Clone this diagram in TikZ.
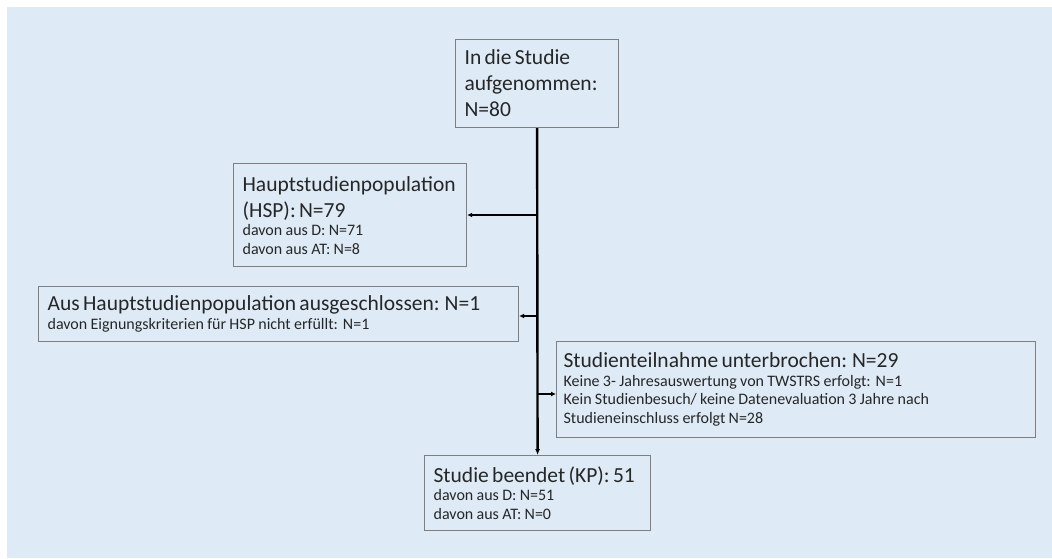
\documentclass[tikz,border=0pt]{standalone}
\usepackage{fontspec}
\setmainfont{Carlito}
\usetikzlibrary{arrows.meta}
\definecolor{bgblue}{HTML}{DEEBF7}
\definecolor{boxline}{HTML}{7F7F7F}
\definecolor{txt}{HTML}{262626}
\newcommand\bigf{\fontsize{21.5}{26}\selectfont}
\newcommand\smf{\fontsize{16}{18.5}\selectfont}
\begin{document}
\begin{tikzpicture}[x=1pt,y=-1pt,
  flowbox/.style={draw=boxline, line width=1.2pt, fill=bgblue, anchor=north west,
    inner xsep=9pt, inner ysep=0pt, align=left, text=txt},
  mainline/.style={line width=2.4pt, draw=black, -{Latex[length=6pt,width=5pt]}},
  sidearrow/.style={line width=1.6pt, draw=black, -{Latex[length=5pt,width=5pt]}}]
\useasboundingbox (0,0) rectangle (1052,558);
\fill[bgblue] (7,7) rectangle (1052,558);

\node[flowbox, text width=145pt, minimum height=88pt] (top) at (455,39)
  {\bigf In die Studie\\aufgenommen:\\N=80\par};
\node[flowbox, text width=215pt, minimum height=103pt] (hsp) at (233,163)
  {{\bigf Hauptstudienpopulation\\(HSP): N=79\par}{\smf davon aus D: N=71\\davon aus AT: N=8\par}};
\node[flowbox, text width=462pt, minimum height=55pt] (excl) at (38,286)
  {{\bigf Aus Hauptstudienpopulation ausgeschlossen: N=1\par}{\smf davon Eignungskriterien für HSP nicht erfüllt: N=1\par}};
\node[flowbox, inner xsep=7pt, text width=465pt, minimum height=96pt] (intr) at (556,341)
  {{\bigf Studienteilnahme unterbrochen: N=29\par}{\smf Keine 3- Jahresauswertung von TWSTRS erfolgt: N=1\\Kein Studienbesuch/ keine Datenevaluation 3 Jahre nach\\Studieneinschluss erfolgt N=28\par}};
\node[flowbox, text width=208pt, minimum height=75pt] (fin) at (424,455)
  {{\bigf Studie beendet (KP): 51\par}{\smf davon aus D: N=51\\davon aus AT: N=0\par}};

\coordinate (j1) at (top.south |- 0,215);
\coordinate (j2) at (top.south |- 0,316);
\coordinate (j3) at (top.south |- 0,394);
\draw[mainline] (top.south) -- (fin.north);
\draw[sidearrow] (j1) -- (j1 -| hsp.east);
\draw[sidearrow] (j2) -- (j2 -| excl.east);
\draw[sidearrow] (j3) -- (j3 -| intr.west);
\end{tikzpicture}
\end{document}
